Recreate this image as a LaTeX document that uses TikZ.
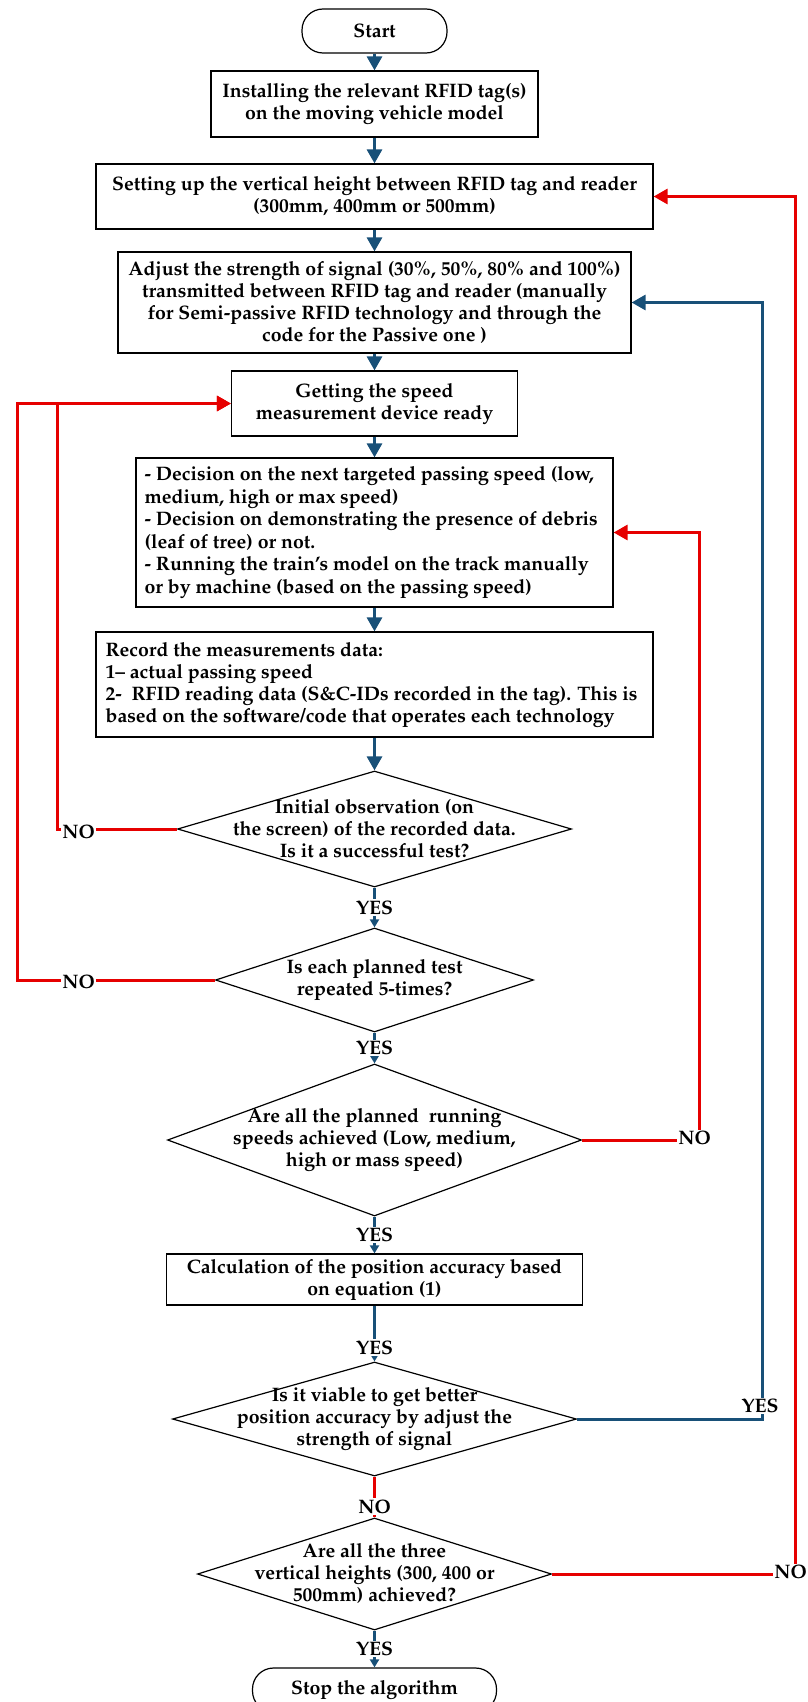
\documentclass[tikz,border=0pt]{standalone}
\usepackage[T1]{fontenc}
\usepackage{palatino}
\usetikzlibrary{shapes.geometric,arrows.meta}
\definecolor{fblue}{RGB}{24,80,120}
\definecolor{fred}{RGB}{230,0,0}
\newcommand{\ftxt}{\bfseries\fontsize{19.5}{22}\selectfont}
\tikzset{
  box/.style={draw=black, line width=1.2pt, fill=white, inner sep=0pt, font=\ftxt, align=center},
  term/.style={box, rounded corners=21pt},
  dia/.style={draw=black, line width=1.2pt, shape=diamond, inner sep=0pt},
  txt/.style={font=\ftxt, inner sep=0pt},
  lab/.style={fill=white, inner sep=1.5pt, font=\ftxt},
  ab/.style={draw=fblue, line width=3pt, -{Triangle[length=14pt,width=15pt]}},
  abs/.style={draw=fblue, line width=3pt, -{Triangle[length=8pt,width=9pt]}},
  ar/.style={draw=fred, line width=3pt, -{Triangle[length=14pt,width=15pt]}},
  lr/.style={draw=fred, line width=3pt},
}
\begin{document}
\begin{tikzpicture}[x=1pt,y=-1pt]
\useasboundingbox (0,0) rectangle (808,1702);

% nodes
\node[term, minimum width=145pt, minimum height=44pt] (start) at (374.5,31) {Start};
\node[box, minimum width=327pt, minimum height=66pt] (b1) at (374.5,104) {Installing the relevant RFID tag(s)\\on the moving vehicle model};
\node[box, minimum width=557pt, minimum height=65pt] (b2) at (374.5,196.5) {Setting up the vertical height between RFID tag and reader\\(300mm, 400mm or 500mm)};
\node[box, minimum width=513pt, minimum height=101pt] (b3) at (374.5,302.5) {Adjust the strength of signal (30\%, 50\%, 80\% and 100\%)\\transmitted between RFID tag and reader (manually\\for Semi-passive RFID technology and through the\\code for the Passive one )};
\node[box, minimum width=286pt, minimum height=65pt] (b4) at (374.5,403.5) {Getting the speed\\measurement device ready};
\node[box, minimum width=477pt, minimum height=149pt] (b5) at (374.5,532.5) {};
\node[txt, align=left, anchor=west, font=\bfseries\fontsize{19.5}{22.5}\selectfont] (t5) at ([xshift=9pt]b5.west) {- Decision on the next targeted passing speed (low,\\medium, high or max speed)\\- Decision on demonstrating the presence of debris\\(leaf of tree) or not.\\- Running the train's model on the track manually\\or by machine (based on the passing speed)};
\node[box, minimum width=557pt, minimum height=105pt] (b6) at (374.5,684.5) {};
\node[txt, align=left, anchor=west] (t6) at ([xshift=10pt]b6.west) {Record the measurements data:\\1-- actual passing speed\\2-~ RFID reading data (S\&C-IDs recorded in the tag). This is\\based on the software/code that operates each technology};
\node[dia, minimum width=394pt, minimum height=116pt] (d1) at (374.5,829) {};
\node[txt, align=center] (t7) at (d1) {Initial observation (on\\the screen) of the recorded data.\\Is it a successful test?};
\node[dia, minimum width=318pt, minimum height=104pt] (d2) at (374.5,980) {};
\node[txt, align=center] (t8) at (d2) {Is each planned test\\repeated 5-times?};
\node[dia, minimum width=414pt, minimum height=152pt] (d3) at (374.5,1140) {};
\node[txt, align=center] (t9) at (d3) {Are all the planned~ running\\speeds achieved (Low, medium,\\high or mass speed)};
\node[box, minimum width=416pt, minimum height=51pt] (b7) at (374.5,1279.5) {Calculation of the position accuracy based\\on equation (1)};
\node[dia, minimum width=404pt, minimum height=114pt] (d4) at (374.5,1419) {};
\node[txt, align=center] (t10) at (d4) {Is it viable to get better\\position accuracy by adjust the\\strength of signal};
\node[dia, minimum width=354pt, minimum height=112pt] (d5) at (374.5,1574) {};
\node[txt, align=center] (t11) at (d5) {Are all the three\\vertical heights (300, 400 or\\500mm) achieved?};
\node[term, minimum width=244pt, minimum height=44pt] (stop) at (374.5,1690) {Stop the algorithm};

% main flow
\draw[ab] (start) -- (b1);
\draw[ab] (b1) -- (b2);
\draw[ab] (b2) -- (b3);
\draw[ab] (b3) -- (b4);
\draw[ab] (b4) -- (b5);
\draw[ab] (b5) -- (b6);
\draw[ab] (b6) -- (d1);
\draw[abs] (d1) -- node[lab] {YES} (d2);
\draw[abs] (d2) -- node[lab] {YES} (d3);
\draw[abs] (d3) -- node[lab] {YES} (b7);
\draw[abs] (b7) -- node[lab, pos=0.75] {YES} (d4);
\draw[lr] (d4) -- node[lab, pos=0.74] {NO} (d5);
\draw[abs] (d5) -- node[lab] {YES} (stop);

% loops
\draw[ar] (d1.west) -- (57,829) |- (b4.west);
\draw[ar] (d2.west) -- (17,980) |- (b4.west);
\draw[ar] (d3.east) -- (699,1140) |- (b5.east);
\draw[ab] (d4.east) -- (762,1419) |- (b3.east);
\draw[ar] (d5.east) -- (795,1574) |- (b2.east);

\node[lab] (n1) at (78.5,832) {NO};
\node[lab] (n2) at (78.5,982) {NO};
\node[lab] (n3) at (694.5,1138) {NO};
\node[lab] (y4) at (760,1406) {YES};
\node[lab] (n5) at (790.5,1572) {NO};
\end{tikzpicture}
\end{document}
